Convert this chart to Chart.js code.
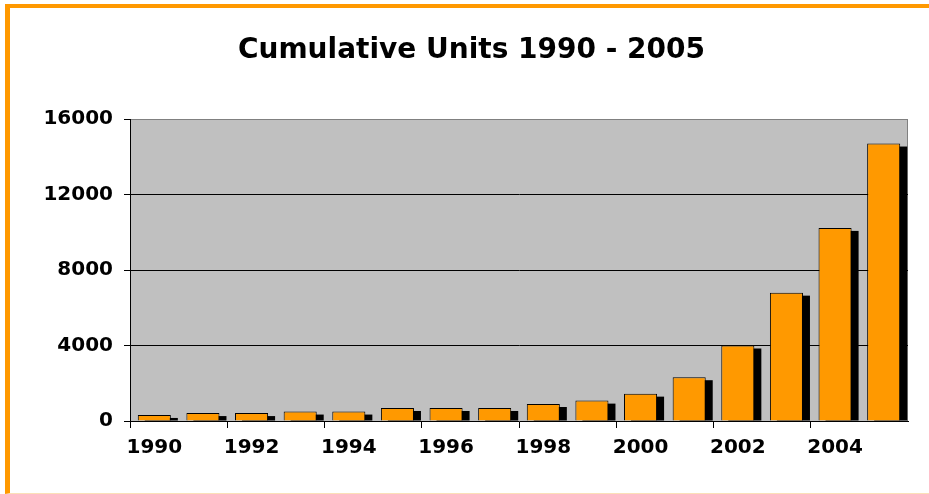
<!DOCTYPE html>
<html>
<head>
<meta charset="utf-8">
<script src="https://cdn.jsdelivr.net/npm/chart.js@4/dist/chart.umd.min.js"></script>
<style>
    html, body { margin: 0; padding: 0; background: #fff; }
    #wrap { position: relative; width: 929px; height: 494px; }
    #frame {
        position: absolute; left: 5px; top: 4px; right: 0; bottom: 0;
        border-left: 5px solid #ff9900;
        border-top: 4px solid #ff9900;
        border-bottom: 1px solid #fbe0b8;
        pointer-events: none;
    }
</style>
</head>
<body>
<div id="wrap">
    <canvas id="unitsChart" width="929" height="494"></canvas>
    <div id="frame"></div>
</div>
<script>
// --- DATA ---
const years = ['1990', '1991', '1992', '1993', '1994', '1995', '1996', '1997',
               '1998', '1999', '2000', '2001', '2002', '2003', '2004', '2005'];
const units = [320, 420, 420, 500, 500, 690, 690, 690,
               900, 1080, 1450, 2320, 4000, 6800, 10230, 14700];
const yMin = 0;
const yMax = 16000;
const yStep = 4000;

const labelFont = { family: "'DejaVu Sans', Verdana, sans-serif", size: 20, weight: 'bold' };

// grey plot area with a thin grey frame on top and right
const plotBackground = {
    id: 'plotBackground',
    beforeDraw(chart) {
        const { ctx, chartArea: a } = chart;
        ctx.save();
        ctx.fillStyle = '#c0c0c0';
        ctx.fillRect(a.left, a.top, a.right - a.left, a.bottom - a.top);
        ctx.strokeStyle = '#808080';
        ctx.lineWidth = 1;
        ctx.beginPath();
        ctx.moveTo(a.left, a.top + 0.5);
        ctx.lineTo(a.right - 0.5, a.top + 0.5);
        ctx.lineTo(a.right - 0.5, a.bottom);
        ctx.stroke();
        ctx.restore();
    }
};

// black drop shadow behind each bar (old Excel look)
const barShadow = {
    id: 'barShadow',
    beforeDatasetsDraw(chart) {
        const { ctx } = chart;
        const meta = chart.getDatasetMeta(0);
        ctx.save();
        ctx.fillStyle = '#000';
        meta.data.forEach(bar => {
            const p = bar.getProps(['x', 'y', 'base', 'width'], true);
            const h = p.base - p.y - 3;
            if (h > 0) {
                ctx.fillRect(p.x - p.width / 2 + 7, p.y + 3, p.width, h);
            }
        });
        ctx.restore();
    }
};

const ctx = document.getElementById('unitsChart').getContext('2d');
new Chart(ctx, {
    type: 'bar',
    data: {
        labels: years,
        datasets: [{
            label: 'Cumulative Units',
            data: units,
            backgroundColor: '#ff9900',
            borderColor: '#000',
            borderWidth: 1,
            barPercentage: 0.68,
            categoryPercentage: 1.0
        }]
    },
    options: {
        responsive: false,
        animation: false,
        events: [],
        layout: { padding: { left: 35, right: 21, top: 0, bottom: 0 } },
        plugins: {
            legend: { display: false },
            tooltip: { enabled: false },
            title: {
                display: true,
                text: 'Cumulative Units 1990 - 2005',
                color: '#000',
                font: { family: "'DejaVu Sans', Verdana, sans-serif", size: 28, weight: 'bold' },
                padding: { top: 34, bottom: 51.4 }
            }
        },
        scales: {
            x: {
                grid: {
                    offset: true,
                    drawOnChartArea: false,
                    tickLength: 7,
                    tickColor: c => (c.index % 2 === 0 ? '#000' : 'rgba(0,0,0,0)')
                },
                border: { color: '#000', width: 1 },
                ticks: {
                    autoSkip: false,
                    maxRotation: 0,
                    padding: 8,
                    color: '#000',
                    font: labelFont,
                    callback: (v, i) => (i % 2 === 0 ? years[i] : '')
                },
                afterFit: s => { s.height = 73; }
            },
            y: {
                min: yMin,
                max: yMax,
                grid: {
                    color: c => (c.tick && c.tick.value === yMax ? '#808080' : (c.tick && c.tick.value === yMin ? 'rgba(0,0,0,0)' : '#000')),
                    tickColor: '#000',
                    tickLength: 6
                },
                border: { color: '#000', width: 1 },
                ticks: {
                    stepSize: yStep,
                    padding: 11,
                    color: '#000',
                    font: labelFont,
                    callback: v => String(v)
                },
                afterFit: s => { s.width = 95; }
            }
        }
    },
    plugins: [plotBackground, barShadow]
});
</script>
</body>
</html>
